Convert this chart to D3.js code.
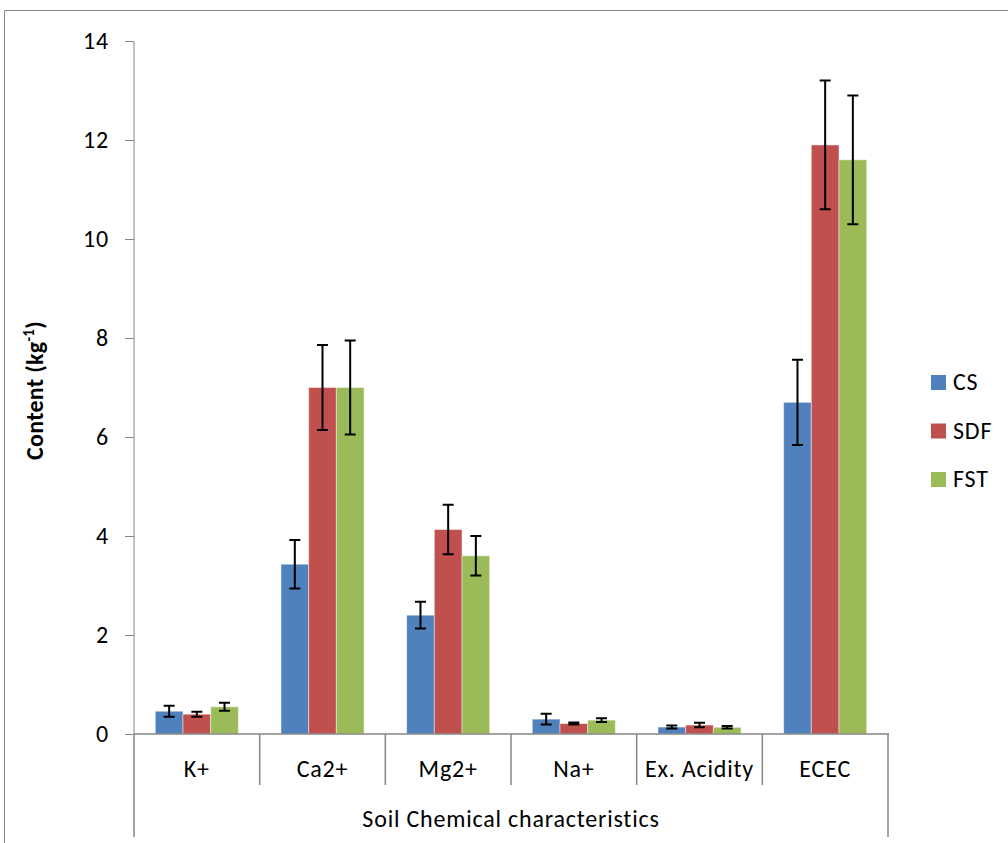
<!DOCTYPE html>
<html>
<head>
<meta charset="utf-8">
<script src="https://cdn.jsdelivr.net/npm/d3@7"></script>
<style>
  body { margin: 0; background: #fff; }
  text { font-family: Carlito, Calibri, Lato, sans-serif; fill: #000; letter-spacing: 0.8px; }
</style>
</head>
<body>
<div id="vis"></div>
<script>
// soil chemistry values
const categories = ['K+', 'Ca2+', 'Mg2+', 'Na+', 'Ex. Acidity', 'ECEC'];
const seriesNames = ['CS', 'SDF', 'FST'];
const colors = ['#4F81BD', '#C0504D', '#9BBB59'];
const csValues = [0.46, 3.43, 2.40, 0.30, 0.14, 6.70];
const sdfValues = [0.40, 7.00, 4.13, 0.21, 0.18, 11.90];
const fstValues = [0.55, 7.00, 3.60, 0.28, 0.135, 11.60];
const csErrors = [0.11, 0.49, 0.27, 0.11, 0.03, 0.86];
const sdfErrors = [0.05, 0.86, 0.50, 0.02, 0.045, 1.30];
const fstErrors = [0.08, 0.95, 0.40, 0.04, 0.025, 1.30];
const yTicks = [0, 2, 4, 6, 8, 10, 12, 14];

const width = 1008;
const height = 843;
const plot = { left: 134, right: 888, top: 41, bottom: 734 };
const fontSize = '24px';

const svg = d3.select('#vis')
  .append('svg')
  .attr('width', width)
  .attr('height', height);

// outer frame
svg.append('path')
  .attr('d', `M4.5,${height} L4.5,10.5 L${width},10.5`)
  .attr('fill', 'none')
  .attr('stroke', '#888')
  .attr('stroke-width', 1);

const x = d3.scaleBand()
  .domain(categories)
  .range([plot.left, plot.right]);

const xInner = d3.scaleBand()
  .domain(seriesNames)
  .range([0, x.bandwidth()])
  .paddingOuter(0.77);

const y = d3.scaleLinear()
  .domain([0, 14])
  .range([plot.bottom, plot.top]);

const values = [csValues, sdfValues, fstValues];
const errors = [csErrors, sdfErrors, fstErrors];

const rows = [];
categories.forEach((c, i) => {
  seriesNames.forEach((s, j) => {
    rows.push({ cat: c, series: s, value: values[j][i], err: errors[j][i], color: colors[j] });
  });
});

// y axis
const yAxis = svg.append('g')
  .attr('transform', `translate(${plot.left},0)`)
  .call(d3.axisLeft(y).tickValues(yTicks).tickSize(9).tickPadding(16).tickFormat(d3.format('d')));
yAxis.select('.domain').attr('stroke', '#868686').attr('d', `M-9,${plot.top}.5H0V${plot.bottom}`);
yAxis.selectAll('.tick line').attr('stroke', '#868686');
yAxis.selectAll('.tick text')
  .style('font-size', fontSize)
  .style('font-family', 'Carlito, Calibri, sans-serif')
  .attr('fill', '#000');

// bars
svg.append('g')
  .selectAll('rect')
  .data(rows)
  .enter()
  .append('rect')
  .attr('x', d => x(d.cat) + xInner(d.series))
  .attr('y', d => y(d.value))
  .attr('width', xInner.bandwidth())
  .attr('height', d => y(0) - y(d.value))
  .attr('fill', d => d.color)
  .attr('stroke', 'rgba(255,255,255,0.45)')
  .attr('stroke-width', 1);

// error bars
const capHalf = 5.5;
const eb = svg.append('g')
  .attr('stroke', '#000')
  .attr('stroke-width', 2)
  .attr('fill', 'none');
eb.selectAll('path')
  .data(rows)
  .enter()
  .append('path')
  .attr('d', d => {
    const cx = x(d.cat) + xInner(d.series) + xInner.bandwidth() / 2;
    const y1 = y(d.value + d.err);
    const y2 = y(d.value - d.err);
    return `M${cx - capHalf},${y1}H${cx + capHalf}M${cx},${y1}V${y2}M${cx - capHalf},${y2}H${cx + capHalf}`;
  });

// x axis line and category dividers
const axisG = svg.append('g')
  .attr('stroke', '#868686')
  .attr('stroke-width', 1.5);
axisG.append('line')
  .attr('x1', plot.left).attr('x2', plot.right + 1)
  .attr('y1', plot.bottom).attr('y2', plot.bottom);
const boundaries = categories.map(c => x(c)).concat([x(categories[categories.length - 1]) + x.bandwidth()]);
axisG.selectAll('.div')
  .data(boundaries)
  .enter()
  .append('line')
  .attr('x1', d => d).attr('x2', d => d)
  .attr('y1', plot.bottom)
  .attr('y2', (d, i) => (i === 0 || i === boundaries.length - 1) ? 837 : 785);

// category labels
svg.append('g')
  .selectAll('text')
  .data(categories)
  .enter()
  .append('text')
  .attr('x', d => x(d) + x.bandwidth() / 2)
  .attr('y', 777)
  .attr('text-anchor', 'middle')
  .style('font-size', fontSize)
  .text(d => d);

// x title
svg.append('text')
  .attr('x', (plot.left + plot.right) / 2)
  .attr('y', 827)
  .attr('text-anchor', 'middle')
  .style('font-size', fontSize)
  .text('Soil Chemical characteristics');

// y title
const yt = svg.append('text')
  .attr('transform', `translate(43, ${(plot.top + plot.bottom) / 2 + 3}) rotate(-90)`)
  .attr('text-anchor', 'middle')
  .style('font-size', fontSize)
  .style('font-weight', 'bold')
  .style('letter-spacing', '0.3px');
yt.append('tspan').text('Content (kg');
yt.append('tspan').attr('dy', -9).style('font-size', '15px').text('-1');
yt.append('tspan').attr('dy', 9).text(')');

// legend
const legend = svg.append('g')
  .attr('transform', 'translate(931, 375)');
const items = legend.selectAll('g')
  .data(seriesNames)
  .enter()
  .append('g')
  .attr('transform', (d, i) => `translate(0, ${i * 48.5})`);
items.append('rect')
  .attr('width', 15).attr('height', 15)
  .attr('fill', (d, i) => colors[i]);
items.append('text')
  .attr('x', 22)
  .attr('y', 15)
  .style('font-size', fontSize)
  .text(d => d);
</script>
</body>
</html>
